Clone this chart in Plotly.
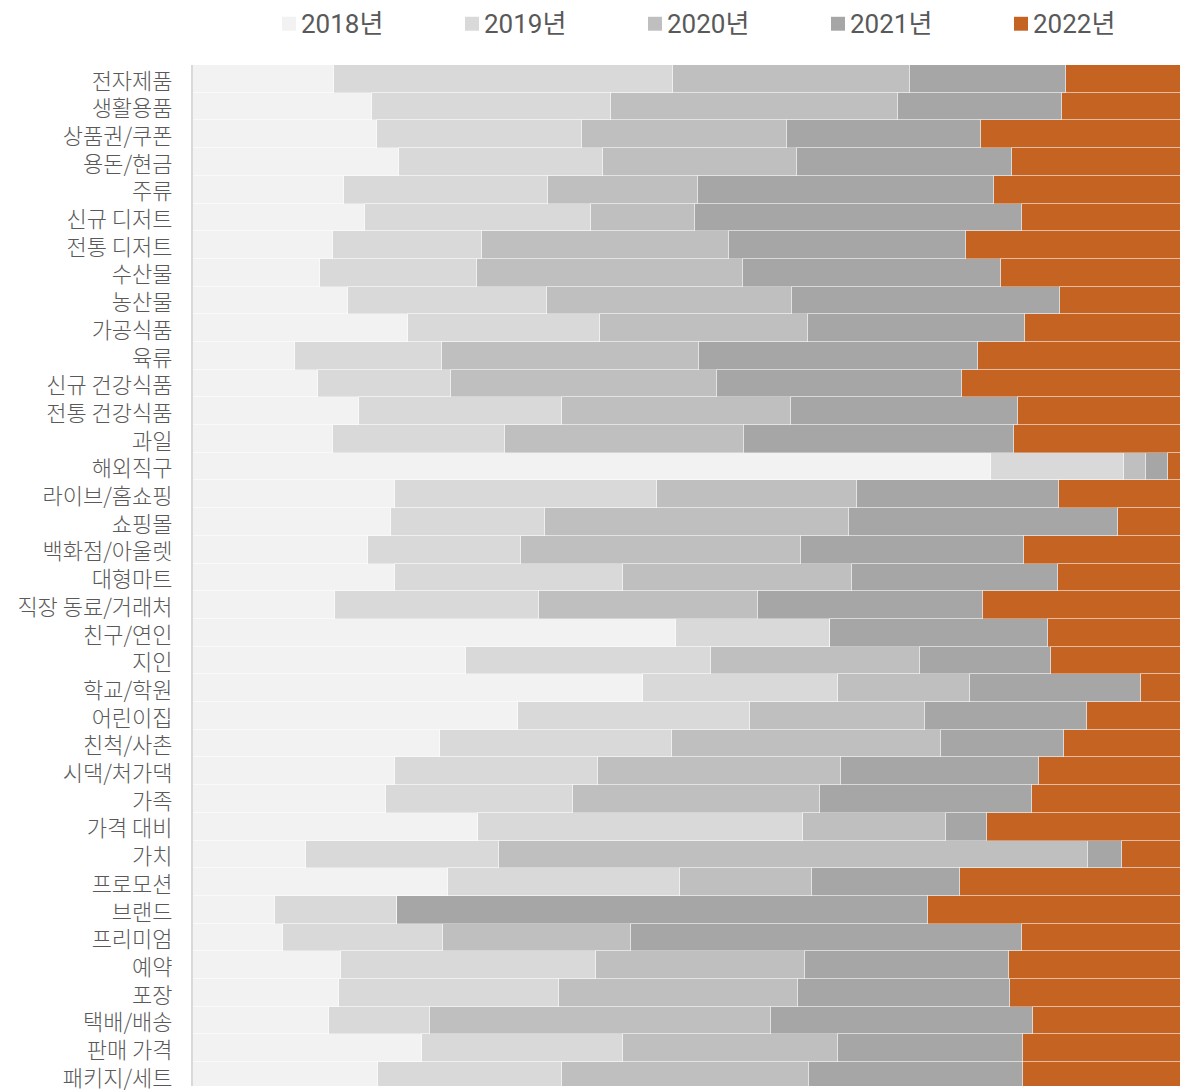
import plotly.graph_objects as go

# Categories, top to bottom
categories = [
    "전자제품", "생활용품", "상품권/쿠폰", "용돈/현금", "주류", "신규 디저트", "전통 디저트",
    "수산물", "농산물", "가공식품", "육류", "신규 건강식품", "전통 건강식품", "과일",
    "해외직구", "라이브/홈쇼핑", "쇼핑몰", "백화점/아울렛", "대형마트", "직장 동료/거래처",
    "친구/연인", "지인", "학교/학원", "어린이집", "친척/사촌", "시댁/처가댁", "가족",
    "가격 대비", "가치", "프로모션", "브랜드", "프리미엄", "예약", "포장", "택배/배송",
    "판매 가격", "패키지/세트",
]

years = ["2018년", "2019년", "2020년", "2021년", "2022년"]

# Share (%) of each year per category
y2018 = [14.1, 17.9, 18.4, 20.7, 15.1, 17.2, 14.0, 12.7, 15.5, 21.6, 10.2, 12.5, 16.6, 14.0,
         80.0, 20.3, 19.8, 17.5, 20.3, 14.2, 48.4, 27.4, 45.1, 32.6, 24.8, 20.3, 19.3,
         28.6, 11.3, 25.6, 8.2, 9.0, 14.8, 14.6, 13.6, 23.0, 18.5]
y2019 = [34.0, 24.0, 20.6, 20.4, 20.5, 22.7, 15.0, 15.8, 20.0, 19.2, 14.8, 13.4, 20.4, 17.3,
         13.3, 26.2, 15.5, 15.4, 22.8, 20.5, 15.5, 24.5, 19.6, 23.2, 23.2, 20.3, 18.8,
         32.6, 19.4, 23.2, 12.3, 16.1, 25.6, 22.1, 10.2, 20.1, 18.5]
y2020 = [23.8, 28.8, 20.6, 19.5, 15.0, 10.4, 24.7, 26.6, 24.6, 20.9, 25.7, 26.6, 23.0, 23.9,
         2.2, 20.1, 30.5, 28.1, 23.0, 21.9, 0.0, 21.0, 13.2, 17.6, 27.0, 24.4, 24.8,
         14.3, 59.0, 13.3, 0.0, 18.8, 21.0, 24.0, 34.1, 21.6, 24.8]
y2021 = [15.6, 16.4, 19.4, 21.5, 29.7, 32.8, 23.8, 25.9, 26.8, 21.7, 28.0, 24.6, 22.7, 27.1,
         2.2, 20.2, 26.9, 22.3, 20.6, 22.6, 21.8, 13.1, 17.1, 16.2, 12.3, 19.8, 21.2,
         4.1, 3.4, 14.8, 53.2, 39.2, 20.4, 21.2, 26.3, 18.5, 21.4]
y2022 = [12.5, 12.9, 21.0, 17.9, 19.7, 16.9, 22.5, 19.0, 13.1, 16.6, 21.3, 22.9, 17.3, 17.7,
         2.3, 13.2, 7.3, 16.7, 13.3, 20.8, 14.3, 14.0, 5.0, 10.4, 12.7, 15.2, 15.9,
         20.4, 6.9, 23.1, 26.3, 16.9, 18.2, 18.1, 15.8, 16.8, 16.8]

series = [y2018, y2019, y2020, y2021, y2022]
colors = ["#f2f2f2", "#d9d9d9", "#bfbfbf", "#a6a6a6", "#c46322"]

W, H = 1180, 1092
M_L, M_R, M_T, M_B = 193, 0, 65, 0
PLOT_W = W - M_L - M_R
PLOT_H = H - M_T - M_B

FONT = "Roboto, 'Noto Sans CJK KR', sans-serif"
TEXT_COLOR = "#595959"

fig = go.Figure()
for name, vals, col in zip(years, series, colors):
    fig.add_trace(go.Bar(
        x=vals, y=categories, orientation="h", name=name,
        marker=dict(color=col, line=dict(color="rgba(255,255,255,0.35)", width=1)),
        showlegend=False,
    ))


def px_to_paper_x(px):
    return (px - M_L) / PLOT_W


def px_to_paper_y(py):
    return (H - M_B - py) / PLOT_H


# Legend row across the top: colour square + label per year
legend_square_x = [282, 465, 648, 831, 1014]
square_size = 14
legend_center_y = 23.5
shapes = []
annotations = []
for name, col, sx in zip(years, colors, legend_square_x):
    shapes.append(dict(
        type="rect", xref="paper", yref="paper",
        x0=px_to_paper_x(sx), x1=px_to_paper_x(sx + square_size),
        y0=px_to_paper_y(legend_center_y + square_size / 2),
        y1=px_to_paper_y(legend_center_y - square_size / 2),
        fillcolor=col, line=dict(width=0), layer="above",
    ))
    annotations.append(dict(
        text=name, xref="paper", yref="paper",
        x=px_to_paper_x(sx + square_size + 3), y=px_to_paper_y(legend_center_y),
        xanchor="left", yanchor="middle", showarrow=False,
        font=dict(family=FONT, size=26, color=TEXT_COLOR),
    ))

n = len(categories)
fig.update_layout(
    width=W, height=H,
    margin=dict(l=M_L, r=M_R, t=M_T, b=M_B, pad=0),
    barmode="stack", bargap=0,
    plot_bgcolor="white", paper_bgcolor="white",
    font=dict(family=FONT, color=TEXT_COLOR),
    xaxis=dict(
        range=[0, 98.95], dtick=20, showgrid=True, gridcolor="#d9d9d9", gridwidth=1,
        showticklabels=False, zeroline=False, showline=False, fixedrange=True,
    ),
    yaxis=dict(
        type="category", categoryorder="array", categoryarray=categories,
        range=[n - 1 + 0.36, -0.5],
        showline=True, linecolor="#d9d9d9", linewidth=2, showgrid=False,
        ticks="", ticklabelstandoff=14, ticklabelshift=-2,
        tickfont=dict(family="'Noto Sans CJK KR', Roboto, sans-serif", size=22,
                      color=TEXT_COLOR, weight=300),
    ),
    shapes=shapes,
    annotations=annotations,
)

fig.write_html("out.html")
